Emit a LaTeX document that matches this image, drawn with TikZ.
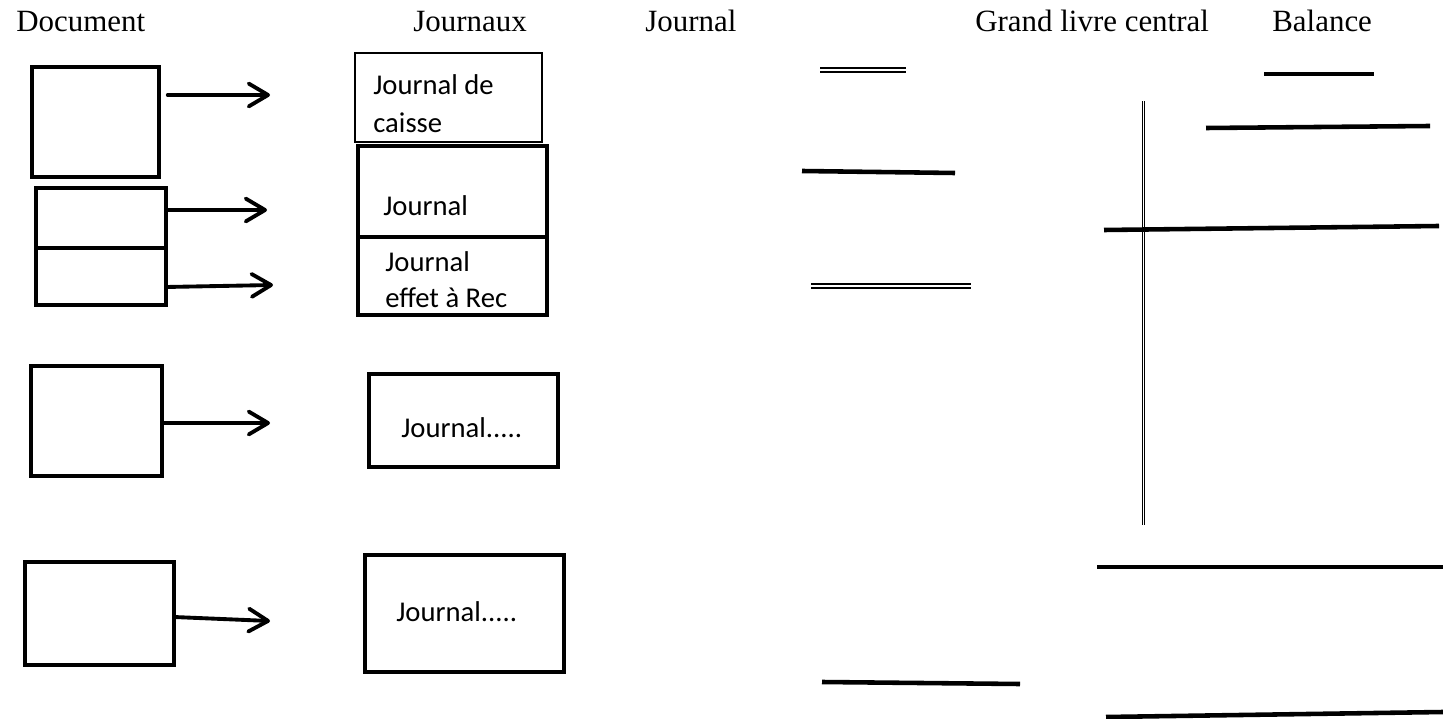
\documentclass[tikz,border=0pt]{standalone}
\usepackage{fontspec}
\setmainfont{Liberation Serif}
\newfontfamily\calibri{Carlito}
\usepackage{tikz}
\usetikzlibrary{arrows.meta,positioning}

\begin{document}
\begin{tikzpicture}[x=0.02cm,y=-0.02cm,
	titre/.style={anchor=base west,inner sep=0pt,font=\fontsize{17.6}{21}\selectfont},
	doc/.style={draw,line width=2.3pt,inner sep=0pt,outer sep=0pt},
	jour/.style={draw,line width=2.4pt,inner sep=0pt,outer sep=0pt},
	jtexte/.style={anchor=west,inner sep=0pt,align=left,font=\calibri\fontsize{16.3}{21}\selectfont},
	fleche/.style={-{Straight Barb[length=11pt,width=13pt,round]},line width=2.2pt,line cap=round},
	trait/.style={line width=2.6pt},
	traitdouble/.style={double,double distance=1.5pt,line width=0.75pt}]
	\useasboundingbox (0,0) rectangle (1443,719);
	% Titres
		\node (h1) at (16,32) [titre] {Document};
		\node (h2) at (413,32) [titre] {Journaux};
		\node (h3) at (645,32) [titre] {Journal};
		\node (h4) at (975,32) [titre] {Grand livre central};
		\node (h5) at (1272,32) [titre] {Balance};
	% Documents
		\node (d1) at (95.5,122) [doc,minimum width=2.54cm,minimum height=2.2cm] {};
		\node (d2) at (101,218) [doc,minimum width=2.6cm,minimum height=1.2cm] {};
		\node (d3) at (101,276.5) [doc,minimum width=2.6cm,minimum height=1.14cm] {};
		\node (d4) at (96.5,421) [doc,minimum width=2.62cm,minimum height=2.2cm] {};
		\node (d5) at (99.5,613.5) [doc,minimum width=2.98cm,minimum height=2.06cm] {};
	% Journaux
		\node (j1) at (448.5,97.5) [jour,line width=0.6pt,minimum width=3.74cm,minimum height=1.78cm] {};
		\node (j2) at (452.5,191.5) [jour,minimum width=3.78cm,minimum height=1.82cm] {};
		\node (j3) at (452.5,276) [jour,minimum width=3.78cm,minimum height=1.56cm] {};
		\node (j4) at (463.5,420.5) [jour,minimum width=3.78cm,minimum height=1.86cm] {};
		\node (j5) at (464.5,613.5) [jour,minimum width=3.98cm,minimum height=2.34cm] {};
		\node (t1) at (373,104) [jtexte,font=\calibri\fontsize{16.3}{21.6}\selectfont] {Journal de\\caisse};
		\node (t2) at (383,206) [jtexte] {Journal};
		\node (t3) at (385,280) [jtexte,font=\calibri\fontsize{16.3}{20.5}\selectfont] {Journal\\effet à Rec};
		\node (t4) at (401,428) [jtexte] {Journal.....};
		\node (t5) at (396,612) [jtexte] {Journal.....};
	% Fleches
		\coordinate (e1) at (270,95);
		\coordinate (e2) at (267,210);
		\coordinate (e3) at (273,285);
		\coordinate (e4) at (270,423);
		\coordinate (e5) at (270,621);
		\draw[fleche,shorten <=5pt] (d1.east |- e1) -- (e1);
		\draw[fleche] (d2.east |- e2) -- (e2);
		\draw[fleche] (d3.east |- 0,287) -- (e3);
		\draw[fleche] (d4.east |- e4) -- (e4);
		\draw[fleche] (d5.east |- 0,617) -- (e5);
	% Journal
		\draw[traitdouble] (820,70) -- (906,70);
		\draw[trait] (802,171) -- (955,173);
		\draw[traitdouble] (811,286) -- (971,286);
		\draw[trait] (822,682) -- (1020,684);
	% Grand livre
		\draw[traitdouble,double distance=1pt,line width=0.6pt] (1143.5,101) -- (1143.5,525);
		\draw[trait] (1104,230) -- (1439,226);
	% Balance
		\draw[trait] (1264,74) -- (1374,74);
		\draw[trait] (1206,128) -- (1430,126);
		\draw[trait] (1097,567) -- (1443,567);
		\draw[trait] (1106,717) -- (1443,712);
\end{tikzpicture}
\end{document}
